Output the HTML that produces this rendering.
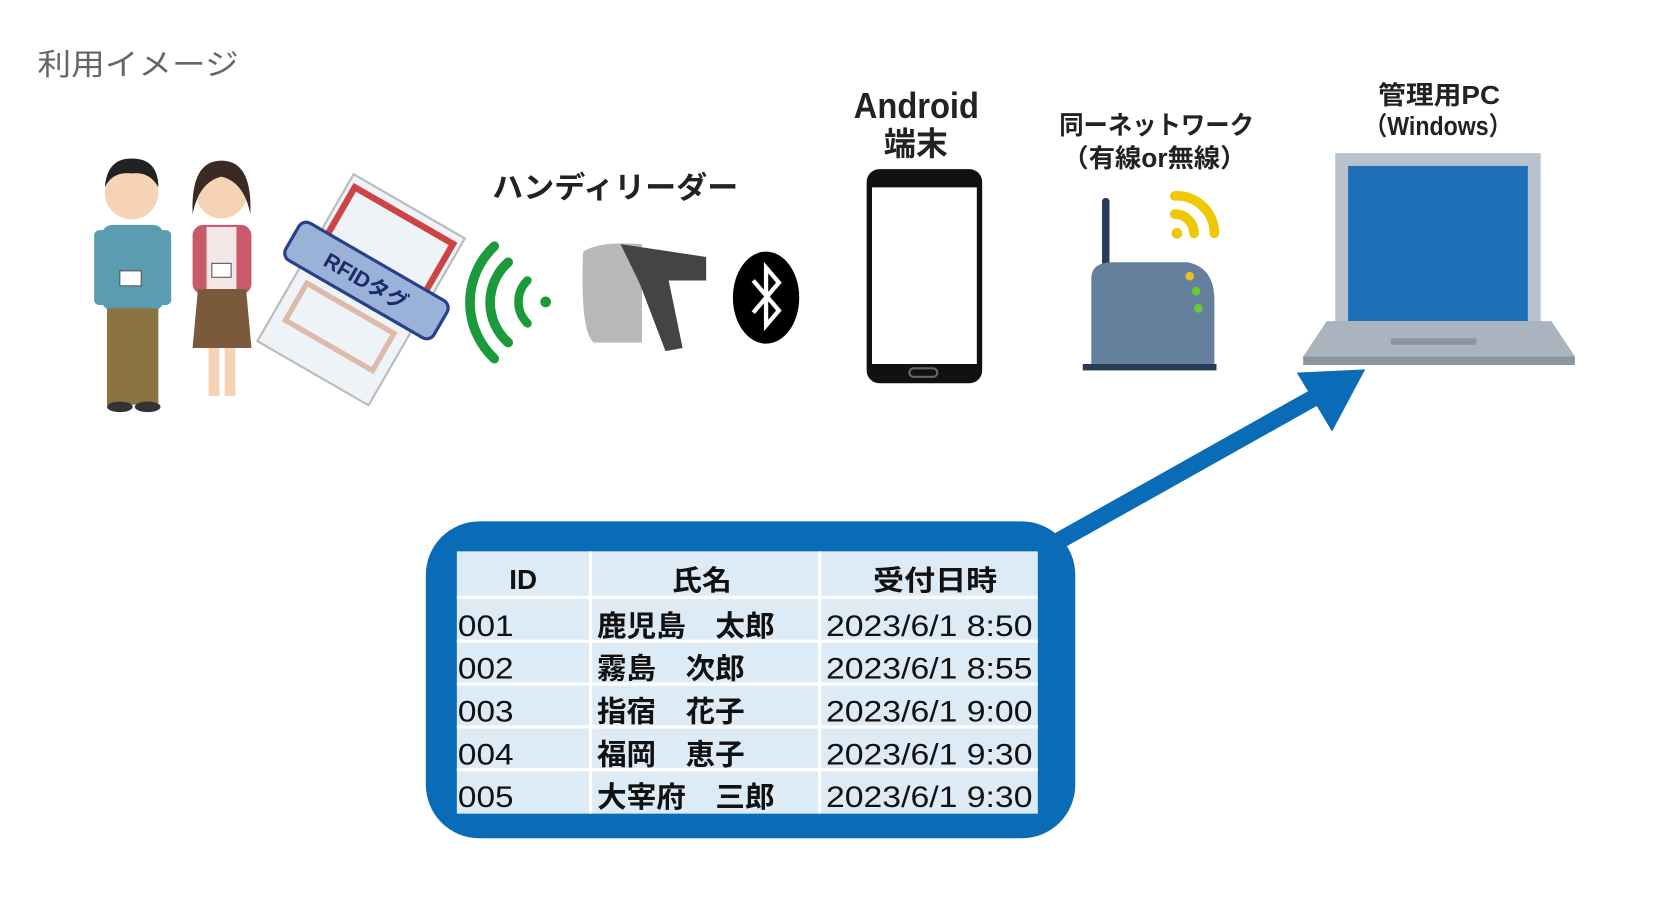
<!DOCTYPE html>
<html><head><meta charset="utf-8"><style>html,body{margin:0;padding:0;background:#fff}svg{display:block}</style></head>
<body>
<svg width="1668" height="910" viewBox="0 0 1559 850" preserveAspectRatio="none" xmlns="http://www.w3.org/2000/svg" font-family="'Liberation Sans','Noto Sans CJK JP',sans-serif">
<text x="35" y="70" font-size="28" fill="#666" textLength="188" lengthAdjust="spacingAndGlyphs">利用イメージ</text>
<g>
<circle cx="123" cy="180" r="25" fill="#f6d3b4"/><path d="M98 175 Q100 148 123 148 Q148 148 148 175 Q140 160 123 162 Q105 160 98 175Z" fill="#222"/>
<rect x="95" y="210" width="58" height="80" rx="10" fill="#5b9cb0"/><rect x="88" y="215" width="12" height="70" rx="5" fill="#5b9cb0"/><rect x="148" y="215" width="12" height="70" rx="5" fill="#5b9cb0"/>
<rect x="112" y="253" width="20" height="14" fill="#fff" stroke="#555"/>
<rect x="100" y="288" width="48" height="90" fill="#8a7440"/><ellipse cx="112" cy="380" rx="12" ry="5" fill="#333"/><ellipse cx="138" cy="380" rx="12" ry="5" fill="#333"/>
</g>
<g>
<circle cx="207" cy="180" r="24" fill="#f6d3b4"/><path d="M180 200 Q178 150 207 150 Q236 150 234 200 Q228 170 207 165 Q186 170 180 200Z" fill="#3a2a22"/>
<rect x="180" y="210" width="55" height="65" rx="10" fill="#c85a6a"/><rect x="193" y="212" width="28" height="60" fill="#f2e6e6"/>
<rect x="198" y="246" width="18" height="13" fill="#fff" stroke="#555"/>
<path d="M185 270 L230 270 L235 325 L180 325Z" fill="#7a5a3a"/>
<rect x="195" y="325" width="10" height="45" fill="#f6d3b4"/><rect x="210" y="325" width="10" height="45" fill="#f6d3b4"/>
</g>
<g transform="rotate(30 335 275)">
<rect x="275" y="180" width="120" height="180" fill="#eef3f8" stroke="#bbb" stroke-width="2"/>
<rect x="282" y="190" width="106" height="70" fill="none" stroke="#c44" stroke-width="6"/>
<rect x="288" y="290" width="94" height="40" fill="none" stroke="#dba" stroke-width="5"/>
<rect x="255" y="240" width="160" height="40" rx="8" fill="#9ab2d8" stroke="#2a3f8a" stroke-width="3"/>
<text x="335" y="268" font-size="20" font-weight="bold" fill="#1a2a6a" text-anchor="middle">RFIDタグ</text>
</g>
<g fill="none" stroke="#1a9a3a" stroke-linecap="round">
<circle cx="510" cy="282" r="5" fill="#1a9a3a" stroke="none"/>
<path d="M493 262 A28 28 0 0 0 493 302" stroke-width="8"/>
<path d="M475 245 A50 50 0 0 0 475 320" stroke-width="9"/>
<path d="M462 230 A72 72 0 0 0 462 335" stroke-width="9"/>
</g>
<text x="460" y="185" font-size="28" font-weight="bold" fill="#222" textLength="230" lengthAdjust="spacingAndGlyphs">ハンディリーダー</text>
<path d="M545 235 Q560 225 600 228 L600 320 L555 320 Q542 310 545 235Z" fill="#b8b8b8"/>
<path d="M580 228 L660 240 L660 262 L625 262 L638 325 L622 328 L598 265 Z" fill="#444"/>
<ellipse cx="716" cy="278" rx="31" ry="43" fill="#000"/>
<path d="M704 262 L728 290 L716 304 L716 250 L728 264 L704 292" fill="none" stroke="#fff" stroke-width="4"/>
<text x="798" y="110" font-size="34" font-weight="bold" fill="#222" textLength="117" lengthAdjust="spacingAndGlyphs">Android</text>
<text x="856" y="145" font-size="30" font-weight="bold" text-anchor="middle" fill="#222">端末</text>
<rect x="810" y="158" width="108" height="200" rx="12" fill="#111"/>
<rect x="815" y="175" width="98" height="165" fill="#fff"/>
<rect x="850" y="344" width="26" height="8" rx="4" fill="none" stroke="#666" stroke-width="2"/>
<text x="990" y="125" font-size="24" font-weight="bold" fill="#222" textLength="182" lengthAdjust="spacingAndGlyphs">同ーネットワーク</text>
<text x="993" y="156" font-size="24" font-weight="bold" fill="#222" textLength="172" lengthAdjust="spacingAndGlyphs">（有線or無線）</text>
<rect x="1030" y="185" width="7" height="65" rx="3" fill="#2a3a5a"/>
<path d="M1020 345 L1020 260 Q1020 245 1040 245 L1110 245 Q1135 250 1135 280 L1135 345Z" fill="#65809c"/>
<rect x="1012" y="340" width="125" height="6" fill="#2a3a5a"/>
<circle cx="1112" cy="258" r="4" fill="#e8c020"/><circle cx="1118" cy="272" r="4" fill="#6c3"/><circle cx="1120" cy="288" r="4" fill="#6c3"/>
<g fill="none" stroke="#f0c800" stroke-width="9" stroke-linecap="round">
<circle cx="1100" cy="218" r="5" fill="#f0c800" stroke="none"/>
<path d="M1098 200 A18 18 0 0 1 1116 218"/><path d="M1098 183 A35 35 0 0 1 1135 218"/>
</g>
<text x="1288" y="97" font-size="24" font-weight="bold" fill="#222" textLength="114" lengthAdjust="spacingAndGlyphs">管理用PC</text>
<text x="1275" y="126" font-size="24" font-weight="bold" fill="#222" textLength="138" lengthAdjust="spacingAndGlyphs">（Windows）</text>
<rect x="1248" y="143" width="192" height="172" fill="#b8c2cc"/>
<rect x="1260" y="155" width="168" height="145" fill="#1f6fb8"/>
<path d="M1240 300 L1450 300 L1472 333 L1218 333Z" fill="#aab4be"/>
<rect x="1218" y="333" width="254" height="8" fill="#8c96a0"/>
<rect x="1300" y="316" width="80" height="6" fill="#8c96a0"/>
<line x1="990" y1="505" x2="1245" y2="362" stroke="#0a6bb7" stroke-width="16"/>
<path d="M1276 345 L1212 348 L1245 403Z" fill="#0a6bb7"/>
<rect x="398" y="487" width="607" height="296" rx="50" fill="#0a6bb7"/>
<rect x="427" y="515" width="543" height="245" fill="#dcebf5"/>
<g stroke="#fff" stroke-width="3">
<line x1="552" y1="515" x2="552" y2="760"/><line x1="766" y1="515" x2="766" y2="760"/>
<line x1="427" y1="558" x2="970" y2="558"/><line x1="427" y1="599" x2="970" y2="599"/><line x1="427" y1="639" x2="970" y2="639"/><line x1="427" y1="679" x2="970" y2="679"/><line x1="427" y1="719" x2="970" y2="719"/>
</g>
<g font-size="26" font-weight="bold" fill="#111">
<text x="476" y="550" textLength="26" lengthAdjust="spacingAndGlyphs">ID</text><text x="628" y="551" textLength="56" lengthAdjust="spacingAndGlyphs">氏名</text><text x="816" y="551" textLength="116" lengthAdjust="spacingAndGlyphs">受付日時</text>
</g>
<g font-size="28" fill="#111">
<text x="428" y="594" textLength="52" lengthAdjust="spacingAndGlyphs">001</text>
<text x="428" y="634" textLength="52" lengthAdjust="spacingAndGlyphs">002</text>
<text x="428" y="674" textLength="52" lengthAdjust="spacingAndGlyphs">003</text>
<text x="428" y="714" textLength="52" lengthAdjust="spacingAndGlyphs">004</text>
<text x="428" y="754" textLength="52" lengthAdjust="spacingAndGlyphs">005</text>
<g font-weight="bold" font-size="27">
<text x="558" y="594" textLength="166" lengthAdjust="spacingAndGlyphs">鹿児島　太郎</text>
<text x="558" y="634" textLength="138" lengthAdjust="spacingAndGlyphs">霧島　次郎</text>
<text x="558" y="674" textLength="138" lengthAdjust="spacingAndGlyphs">指宿　花子</text>
<text x="558" y="714" textLength="138" lengthAdjust="spacingAndGlyphs">福岡　恵子</text>
<text x="558" y="754" textLength="166" lengthAdjust="spacingAndGlyphs">大宰府　三郎</text>
</g>
<text x="772" y="594" textLength="193" lengthAdjust="spacingAndGlyphs">2023/6/1 8:50</text>
<text x="772" y="634" textLength="193" lengthAdjust="spacingAndGlyphs">2023/6/1 8:55</text>
<text x="772" y="674" textLength="193" lengthAdjust="spacingAndGlyphs">2023/6/1 9:00</text>
<text x="772" y="714" textLength="193" lengthAdjust="spacingAndGlyphs">2023/6/1 9:30</text>
<text x="772" y="754" textLength="193" lengthAdjust="spacingAndGlyphs">2023/6/1 9:30</text>
</g>
</svg>
</body></html>
